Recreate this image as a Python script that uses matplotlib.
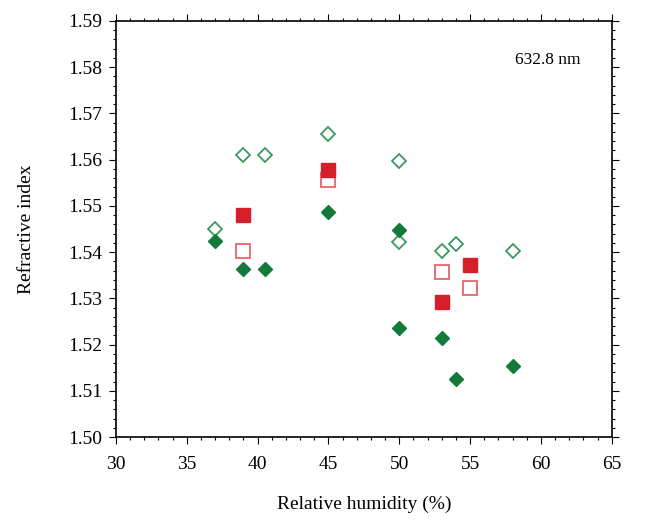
import numpy as np
import matplotlib
matplotlib.use('Agg')
import matplotlib.pyplot as plt
from matplotlib.ticker import MultipleLocator

plt.rcParams['font.family'] = ['Liberation Serif', 'DejaVu Serif']

# 数据：相对湿度 (%) 与折射率
x_green_filled = [37, 39, 40.5, 45, 50, 50, 53, 54, 58]
y_green_filled = [1.5425, 1.5363, 1.5363, 1.5486, 1.5447, 1.5235, 1.5214, 1.5126, 1.5154]

x_green_open = [37, 39, 40.5, 45, 50, 50, 53, 54, 58]
y_green_open = [1.5450, 1.5609, 1.5609, 1.5655, 1.5597, 1.5421, 1.5403, 1.5418, 1.5403]

x_red_filled = [39, 45, 53, 55]
y_red_filled = [1.5481, 1.5578, 1.5293, 1.5372]

x_red_open = [39, 45, 53, 55]
y_red_open = [1.5403, 1.5556, 1.5358, 1.5322]

xticks = [30, 35, 40, 45, 50, 55, 60, 65]
yticks = [1.50, 1.51, 1.52, 1.53, 1.54, 1.55, 1.56, 1.57, 1.58, 1.59]

fig = plt.figure(figsize=(6.48, 5.24), dpi=100)
ax = fig.add_axes([0.179, 0.166, 0.765, 0.794])

green_dark = '#137a3b'
green_light = '#3d9a5e'
red = '#d51f2a'
red_light = '#e4666a'

ax.plot(x_green_open, y_green_open, 'D', ms=7, mfc='white', mec=green_light, mew=1.3, ls='none')
ax.plot(x_green_filled, y_green_filled, 'D', ms=7, mfc=green_dark, mec=green_dark, mew=1, ls='none')
ax.plot(x_red_open, y_red_open, 's', ms=9.5, mfc='white', mec=red_light, mew=1.3, ls='none')
ax.plot(x_red_filled, y_red_filled, 's', ms=9.5, mfc=red, mec=red, mew=1, ls='none')

ax.set_xlim(30, 65)
ax.set_ylim(1.50, 1.59)
ax.set_xticks(xticks)
ax.set_yticks(yticks)
ax.set_yticklabels(['%.2f' % v for v in yticks])
ax.xaxis.set_minor_locator(MultipleLocator(1))
ax.yaxis.set_minor_locator(MultipleLocator(0.002))
ax.tick_params(which='both', direction='out', top=True, right=True,
               labeltop=False, labelright=False, width=0.8)
ax.tick_params(which='major', length=5, labelsize=14)
ax.tick_params(axis='y', which='major', pad=5)
ax.tick_params(axis='x', which='major', pad=9)
ax.tick_params(which='minor', length=2.5)
for s in ax.spines.values():
    s.set_linewidth(1.2)

ax.set_xlabel('Relative humidity (%)', fontsize=14, labelpad=16)
ax.set_ylabel('Refractive index', fontsize=14, labelpad=24)
ax.text(0.871, 0.905, '632.8 nm', transform=ax.transAxes, fontsize=12.5,
        ha='center', va='center')

fig.savefig('out.png', dpi=100)
